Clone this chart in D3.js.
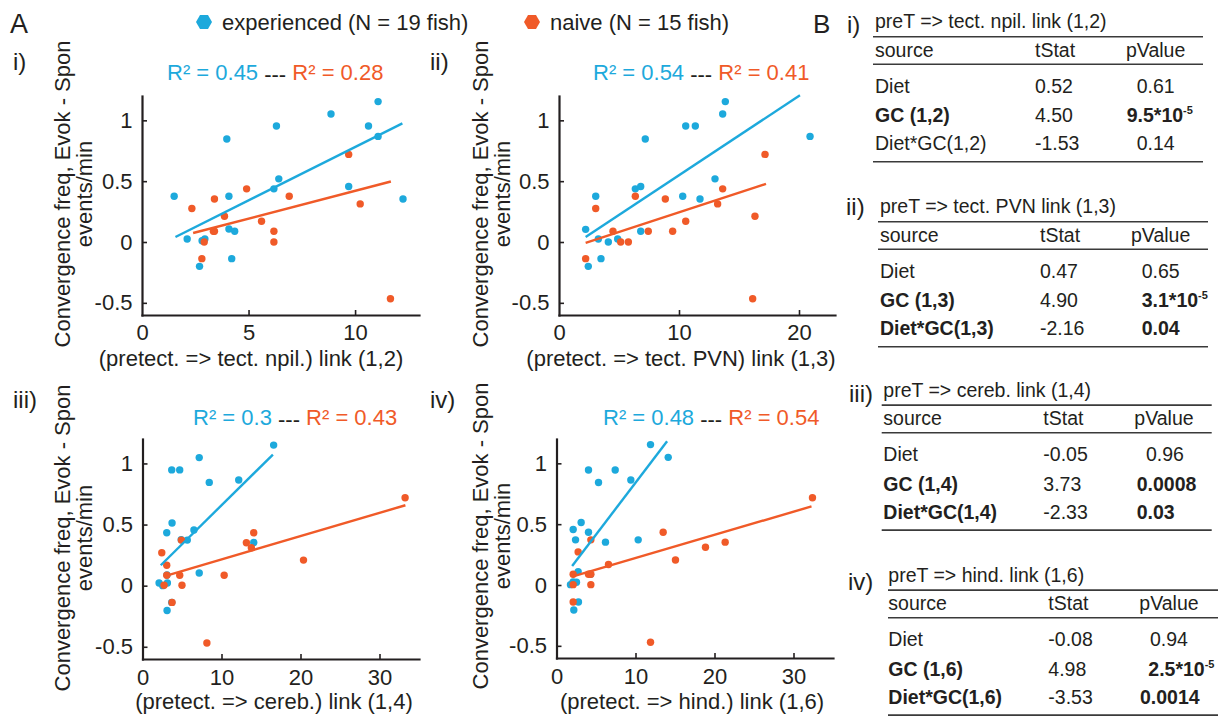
<!DOCTYPE html>
<html><head><meta charset="utf-8">
<script src="https://cdn.jsdelivr.net/npm/d3@7"></script>
<style>
body{margin:0;background:#fff}
text{font-family:"Liberation Sans",Arial,Helvetica,sans-serif}
</style>
</head><body>
<svg id="c" width="1226" height="717"></svg>
<script>
// ---------------- DATA ----------------
const panelLabels = ["i)", "ii)", "iii)", "iv)"];
const xAxisLabels = [
  "(pretect. => tect. npil.) link (1,2)",
  "(pretect. => tect. PVN) link (1,3)",
  "(pretect. => cereb.) link (1,4)",
  "(pretect. => hind.) link (1,6)"
];
const yAxisLabel1 = "Convergence freq, Evok - Spon";
const yAxisLabel2 = "events/min";
const xMax = [13, 23, 35, 35];
const xTickVals = [[0, 5, 10], [0, 10, 20], [0, 10, 20, 30], [0, 10, 20, 30]];
const yTickVals = [-0.5, 0, 0.5, 1];
const yTickLabels = ["-0.5", "0", "0.5", "1"];
const r2Exp = ["0.45", "0.54", "0.3", "0.48"];
const r2Naive = ["0.28", "0.41", "0.43", "0.54"];
const legendLabels = ["experienced (N = 19 fish)", "naive (N = 15 fish)"];

// panel i
const expX_i = [1.51, 2.12, 2.70, 2.82, 2.95, 3.98, 4.08, 4.08, 4.35, 4.21, 6.31, 6.19, 6.42, 8.87, 9.70, 10.63, 11.08, 11.08, 12.25];
const expY_i = [0.376, 0.025, -0.20, 0.01, 0.025, 0.846, 0.376, 0.107, 0.088, -0.137, 0.953, 0.437, 0.519, 1.052, 0.456, 0.953, 1.154, 0.868, 0.354];
const naiX_i = [2.34, 2.81, 2.92, 3.40, 3.40, 3.87, 4.91, 5.61, 6.19, 6.19, 6.91, 9.70, 10.24, 11.66, 3.35];
const naiY_i = [0.275, -0.137, 0.0, 0.354, 0.088, 0.212, 0.437, 0.170, 0.088, 0.0, 0.376, 0.720, 0.313, -0.467, 0.088];
const fitExp_i = [[1.57, 0.041], [12.22, 0.975]];
const fitNai_i = [[2.40, 0.074], [11.68, 0.497]];

// panel ii
const expX_ii = [2.22, 2.44, 3.06, 3.28, 3.5, 4.11, 4.89, 6.36, 6.81, 6.81, 7.19, 10.31, 10.56, 11.36, 11.75, 13.0, 13.64, 13.86, 20.92];
const expY_ii = [0.104, -0.20, 0.376, 0.025, -0.137, 0.0, 0.025, 0.437, 0.456, 0.088, 0.846, 0.376, 0.953, 0.953, 0.354, 0.519, 1.052, 1.154, 0.868];
const naiX_ii = [2.22, 3.06, 4.5, 5.14, 5.78, 6.36, 7.44, 8.86, 9.47, 10.56, 13.22, 13.64, 16.33, 16.14, 17.17];
const naiY_ii = [-0.137, 0.275, 0.088, 0.0, 0.0, 0.376, 0.088, 0.354, 0.088, 0.170, 0.313, 0.437, 0.212, -0.467, 0.720];
const fitExp_ii = [[2.22, 0.041], [20.08, 1.206]];
const fitNai_ii = [[2.22, -0.008], [17.25, 0.478]];

// panel iii
const expX_iii = [2.1, 2.56, 3.15, 3.11, 3.07, 3.74, 3.70, 4.71, 5.67, 6.51, 7.18, 7.18, 8.45, 12.18, 14.08, 16.6, 3.7, 4.9, 3.1];
const expY_iii = [0.022, 0.0, 0.022, -0.203, 0.433, 0.513, 0.947, 0.947, 0.373, 0.455, 0.104, 1.048, 0.845, 0.864, 0.354, 1.150, -0.137, 0.376, 0.088];
const naiX_iii = [2.44, 3.07, 3.07, 2.73, 3.74, 4.71, 4.92, 5.0, 8.15, 10.34, 13.15, 13.78, 14.08, 20.38, 33.24];
const naiY_iii = [0.269, 0.167, 0.085, 0.003, -0.137, 0.085, 0.373, 0.003, -0.469, 0.085, 0.351, 0.31, 0.433, 0.209, 0.719];
const fitExp_iii = [[2.31, 0.167], [16.51, 1.073]];
const fitNai_iii = [[2.94, 0.080], [33.28, 0.658]];

// panel iv
const expX_iv = [1.77, 2.19, 2.11, 2.41, 2.53, 2.74, 2.78, 3.12, 4.05, 4.05, 5.32, 6.20, 7.43, 9.41, 10.34, 11.9, 14.14, 2.1, 4.3];
const expY_iv = [0.003, -0.206, 0.456, 0.371, 0.022, 0.110, -0.140, 0.514, 0.434, 0.945, 0.843, 0.352, 0.945, 0.863, 0.371, 1.154, 1.049, 0.025, 0.088];
const naiX_iv = [2.11, 2.11, 2.11, 2.74, 4.05, 4.35, 4.35, 4.35, 6.58, 11.9, 13.5, 15.06, 18.86, 21.35, 32.4];
const naiY_iv = [0.088, 0.003, -0.140, 0.272, 0.088, 0.088, 0.371, 0.003, 0.168, -0.470, 0.434, 0.206, 0.310, 0.352, 0.717];
const fitExp_iv = [[1.98, 0.157], [14.0, 1.181]];
const fitNai_iv = [[1.98, 0.069], [32.28, 0.646]];

// tables
const tableNumerals = ["i)", "ii)", "iii)", "iv)"];
const tableTitles = ["preT => tect. npil. link (1,2)", "preT => tect. PVN link (1,3)", "preT => cereb. link (1,4)", "preT => hind. link (1,6)"];
const tableHeaders = ["source", "tStat", "pValue"];
const tableSources = [
  ["Diet", "GC (1,2)", "Diet*GC(1,2)"],
  ["Diet", "GC (1,3)", "Diet*GC(1,3)"],
  ["Diet", "GC (1,4)", "Diet*GC(1,4)"],
  ["Diet", "GC (1,6)", "Diet*GC(1,6)"]
];
const tableTStats = [["0.52", "4.50", "-1.53"], ["0.47", "4.90", "-2.16"], ["-0.05", "3.73", "-2.33"], ["-0.08", "4.98", "-3.53"]];
const tablePValues = [["0.61", "9.5*10^-5", "0.14"], ["0.65", "3.1*10^-5", "0.04"], ["0.96", "0.0008", "0.03"], ["0.94", "2.5*10^-5", "0.0014"]];
const tableBold = [[false, true, false], [false, true, true], [false, true, true], [false, true, true]];

// ---------------- STYLE / LAYOUT ----------------
const BLUE = "#1DA9DC", ORANGE = "#F05A28", INK = "#231F20";
const FONT = 22;
const panelLayout = [
  {x0: 142, x1: 419, y0: 315, y1: 96, lab: [13, 70], r2: [167, 80], yl: [70, 92, 194], xl: [251, 366], tp: 9.5},
  {x0: 559, x1: 835, y0: 315, y1: 96, lab: [430, 70], r2: [593, 80], yl: [488, 510, 194], xl: [681, 366], tp: 9.5},
  {x0: 142.5, x1: 419, y0: 659, y1: 439, lab: [13, 408], r2: [193, 425], yl: [70, 92, 538], xl: [274, 709], tp: 10.5},
  {x0: 556.5, x1: 833, y0: 658, y1: 439, lab: [430, 408], r2: [603, 425], yl: [488, 510, 536], xl: [692, 709], tp: 10.5}
];
const tableLayout = [
  {T: 28.3, L: 875, lineL: -2, num: [847, 33], pv: [261.7, 251.7, 261.7]},
  {T: 213.3, L: 880, lineL: -2, num: [846, 215], pv: [261.7, 261.7, 261.7]},
  {T: 396.7, L: 883.3, lineL: -1.6, num: [849, 402], pv: [262.7, 253.4, 253.4]},
  {T: 581.7, L: 888.3, lineL: -0.3, num: [848, 590], pv: [261.7, 260, 251.7]}
];

const panels = [
  {ex: expX_i, ey: expY_i, nx: naiX_i, ny: naiY_i, fe: fitExp_i, fn: fitNai_i},
  {ex: expX_ii, ey: expY_ii, nx: naiX_ii, ny: naiY_ii, fe: fitExp_ii, fn: fitNai_ii},
  {ex: expX_iii, ey: expY_iii, nx: naiX_iii, ny: naiY_iii, fe: fitExp_iii, fn: fitNai_iii},
  {ex: expX_iv, ey: expY_iv, nx: naiX_iv, ny: naiY_iv, fe: fitExp_iv, fn: fitNai_iv}
];

const svg = d3.select("#c");

svg.append("text").attr("x", 10).attr("y", 33).attr("font-size", 27).attr("fill", INK).text("A");
svg.append("text").attr("x", 813).attr("y", 33).attr("font-size", 26).attr("fill", INK).text("B");

function hexPath(cx, cy, r) {
  const pts = d3.range(6).map(k => {
    const a = Math.PI / 3 * k;
    return [cx + r * Math.cos(a), cy + r * Math.sin(a)];
  });
  return "M" + pts.map(p => p.join(",")).join("L") + "Z";
}
[[204, 22, BLUE, 222, legendLabels[0]], [532, 22, ORANGE, 550, legendLabels[1]]].forEach(d => {
  svg.append("path").attr("d", hexPath(d[0], d[1], 8)).attr("fill", d[2]);
  svg.append("text").attr("x", d[3]).attr("y", 30).attr("font-size", FONT).attr("fill", INK).text(d[4]);
});

panels.forEach((p, i) => {
  const L = panelLayout[i];
  const x = d3.scaleLinear().domain([0, xMax[i]]).range([L.x0, L.x1]);
  const y = d3.scaleLinear().domain([-0.6, 1.2]).range([L.y0, L.y1]);
  const g = svg.append("g");

  g.append("text").attr("x", L.lab[0]).attr("y", L.lab[1]).attr("font-size", 24).attr("fill", INK).text(panelLabels[i]);

  const yAx = d3.axisLeft(y).tickValues(yTickVals).tickFormat((d, k) => yTickLabels[k])
    .tickSizeInner(-5).tickSizeOuter(0).tickPadding(9.5);
  const xAx = d3.axisBottom(x).tickValues(xTickVals[i]).tickFormat(d3.format("d"))
    .tickSizeInner(-5).tickSizeOuter(0).tickPadding(L.tp);
  const gy = g.append("g").attr("transform", `translate(${L.x0},0)`).call(yAx);
  const gx = g.append("g").attr("transform", `translate(0,${L.y0})`).call(xAx);
  [gx, gy].forEach(a => {
    a.select(".domain").attr("stroke", INK).attr("stroke-width", 2.2).attr("stroke-linecap", "square");
    a.selectAll(".tick line").attr("stroke", INK).attr("stroke-width", 1.6);
    a.selectAll(".tick text").attr("font-size", FONT).attr("fill", INK)
      .attr("font-family", '"Liberation Sans",Arial,sans-serif');
  });
  gx.selectAll(".tick").filter(d => d === 0).select("line").remove();

  const expPts = p.ex.map((v, k) => [v, p.ey[k]]);
  const naiPts = p.nx.map((v, k) => [v, p.ny[k]]);
  g.append("g").selectAll("circle").data(expPts).join("circle")
    .attr("cx", d => x(d[0])).attr("cy", d => y(d[1])).attr("r", 3.7).attr("fill", BLUE);
  g.append("g").selectAll("circle").data(naiPts).join("circle")
    .attr("cx", d => x(d[0])).attr("cy", d => y(d[1])).attr("r", 3.7).attr("fill", ORANGE);

  const line = d3.line().x(d => x(d[0])).y(d => y(d[1]));
  g.append("path").attr("d", line(p.fe)).attr("stroke", BLUE).attr("stroke-width", 2.4).attr("fill", "none");
  g.append("path").attr("d", line(p.fn)).attr("stroke", ORANGE).attr("stroke-width", 2.4).attr("fill", "none");

  const t = g.append("text").attr("x", L.r2[0]).attr("y", L.r2[1]).attr("font-size", FONT);
  t.append("tspan").attr("fill", BLUE).text("R\u00B2 = " + r2Exp[i]);
  t.append("tspan").attr("fill", INK).attr("dy", 2).text(" --- ");
  t.append("tspan").attr("fill", ORANGE).attr("dy", -2).text("R\u00B2 = " + r2Naive[i]);

  g.append("text").attr("transform", `translate(${L.yl[0]},${L.yl[2]}) rotate(-90)`)
    .attr("text-anchor", "middle").attr("font-size", FONT).attr("fill", INK).text(yAxisLabel1);
  g.append("text").attr("transform", `translate(${L.yl[1]},${L.yl[2]}) rotate(-90)`)
    .attr("text-anchor", "middle").attr("font-size", FONT).attr("fill", INK).text(yAxisLabel2);
  g.append("text").attr("x", L.xl[0]).attr("y", L.xl[1]).attr("text-anchor", "middle")
    .attr("font-size", FONT).attr("fill", INK).text(xAxisLabels[i]);
});

const TF = 19.5;
tableTitles.forEach((title, i) => {
  const TL = tableLayout[i];
  const g = svg.append("g");
  g.append("text").attr("x", TL.num[0]).attr("y", TL.num[1]).attr("font-size", 24).attr("fill", INK).text(tableNumerals[i]);
  g.append("text").attr("x", TL.L).attr("y", TL.T).attr("font-size", TF).attr("fill", INK).text(title);
  const x1 = TL.L + TL.lineL, x2 = TL.L + TL.lineL + 330;
  [8.4, 36, 133.4].forEach(dy => {
    g.append("line").attr("x1", x1).attr("x2", x2).attr("y1", TL.T + dy).attr("y2", TL.T + dy)
      .attr("stroke", "#3a3a3a").attr("stroke-width", 1.6);
  });
  const hx = [0, 160, 251];
  tableHeaders.forEach((h, k) => {
    g.append("text").attr("x", TL.L + hx[k]).attr("y", TL.T + 28.3).attr("font-size", TF).attr("fill", INK).text(h);
  });
  const rowDy = [64.3, 94, 122];
  tableSources[i].forEach((src, r) => {
    const bold = tableBold[i][r];
    const yy = TL.T + rowDy[r];
    g.append("text").attr("x", TL.L).attr("y", yy).attr("font-size", TF).attr("fill", INK)
      .attr("font-weight", bold ? "bold" : "normal").text(src);
    g.append("text").attr("x", TL.L + 160).attr("y", yy).attr("font-size", TF).attr("fill", INK).text(tableTStats[i][r]);
    const pv = tablePValues[i][r].split("^");
    const pt = g.append("text").attr("x", TL.L + TL.pv[r]).attr("y", yy).attr("font-size", TF).attr("fill", INK)
      .attr("font-weight", bold ? "bold" : "normal");
    pt.append("tspan").text(pv[0]);
    if (pv[1]) pt.append("tspan").attr("font-size", 11).attr("dy", -8).text(pv[1]);
  });
});
</script>
</body></html>
